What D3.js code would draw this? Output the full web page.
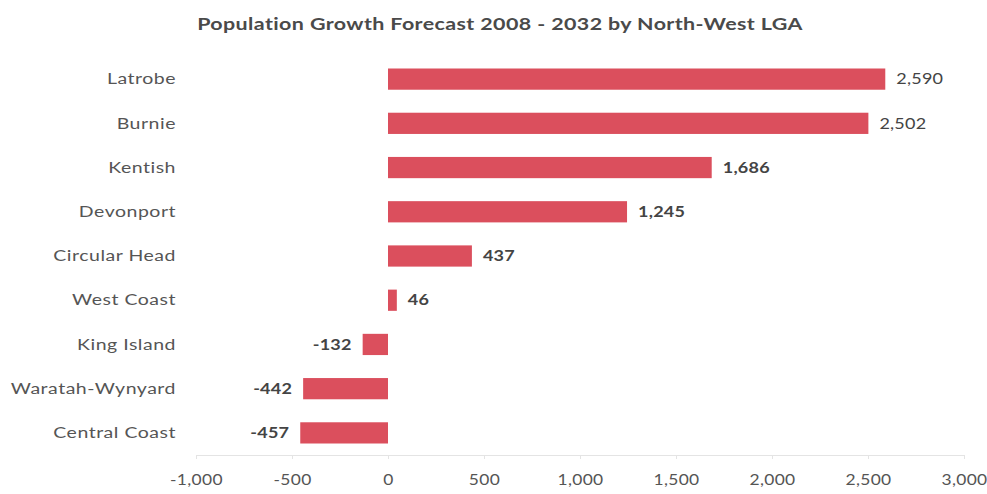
<!DOCTYPE html>
<html>
<head>
<meta charset="utf-8">
<script src="https://cdn.jsdelivr.net/npm/d3@7"></script>
<style>
  body { margin: 0; background: #fff; }
  svg { font-family: Lato, "Open Sans", sans-serif; }
</style>
</head>
<body>
<svg id="chart"></svg>
<script>
// Data
const lgaNames = ["Latrobe", "Burnie", "Kentish", "Devonport", "Circular Head",
                  "West Coast", "King Island", "Waratah-Wynyard", "Central Coast"];
const growthValues = [2590, 2502, 1686, 1245, 437, 46, -132, -442, -457];
const xTicks = [-1000, -500, 0, 500, 1000, 1500, 2000, 2500, 3000];

const width = 987;
const height = 494;
const margin = { top: 57, right: 23, bottom: 39, left: 196 };
const stretch = 1.3; // the scanned original has horizontally stretched type

const svg = d3.select("#chart")
    .attr("width", width)
    .attr("height", height);

const data = lgaNames.map((name, i) => ({ name: name, value: growthValues[i] }));
const fmt = d => d3.format(",")(d).replace("−", "-");

const xScale = d3.scaleLinear()
    .domain([-1000, 3000])
    .range([margin.left, width - margin.right]);

const yScale = d3.scaleBand()
    .domain(lgaNames)
    .range([margin.top, height - margin.bottom])
    .paddingInner(0.52)
    .paddingOuter(0.26);

// Title
svg.append("text")
    .attr("transform", `translate(500, 30) scale(${stretch}, 1)`)
    .attr("text-anchor", "middle")
    .attr("font-size", 16.5)
    .attr("font-weight", "bold")
    .attr("letter-spacing", 0.3)
    .attr("fill", "#4a4a4a")
    .text("Population Growth Forecast 2008 - 2032 by North-West LGA");

// x axis
const axisY = height - margin.bottom;
const xAxis = svg.append("g")
    .attr("transform", `translate(0, ${axisY})`)
    .call(d3.axisBottom(xScale).tickValues(xTicks).tickSize(4).tickPadding(16)
        .tickFormat(fmt));
xAxis.select(".domain").attr("stroke", "#e4e4e4");
xAxis.selectAll(".tick line").attr("stroke", "#e4e4e4");
xAxis.selectAll(".tick text")
    .attr("transform", "scale(1.2, 1)")
    .attr("font-size", 14.5)
    .attr("letter-spacing", 0.3)
    .attr("fill", "#555")
    .attr("font-family", "Lato, 'Open Sans', sans-serif");

// category labels
svg.append("g")
    .selectAll("text")
    .data(data)
    .join("text")
    .attr("transform", d => `translate(176, ${yScale(d.name) + yScale.bandwidth() / 2}) scale(${stretch}, 1)`)
    .attr("dy", "0.35em")
    .attr("text-anchor", "end")
    .attr("font-size", 15)
    .attr("letter-spacing", 0.4)
    .attr("fill", "#555")
    .text(d => d.name);

// bars
svg.append("g")
    .selectAll("rect")
    .data(data)
    .join("rect")
    .attr("x", d => xScale(Math.min(0, d.value)))
    .attr("y", d => yScale(d.name))
    .attr("width", d => Math.abs(xScale(d.value) - xScale(0)))
    .attr("height", yScale.bandwidth())
    .attr("fill", "#db4f5d");

// value labels
svg.append("g")
    .selectAll("text")
    .data(data)
    .join("text")
    .attr("transform", d => {
        const x = d.value >= 0 ? xScale(d.value) + 11 : xScale(d.value) - 11;
        return `translate(${x}, ${yScale(d.name) + yScale.bandwidth() / 2}) scale(${stretch - 0.1}, 1)`;
    })
    .attr("dy", "0.35em")
    .attr("text-anchor", d => d.value >= 0 ? "start" : "end")
    .attr("font-size", 15)
    .attr("letter-spacing", 0.2)
    .attr("font-weight", d => d.value < 2000 ? "bold" : "normal")
    .attr("fill", "#444")
    .text(d => fmt(d.value));
</script>
</body>
</html>
